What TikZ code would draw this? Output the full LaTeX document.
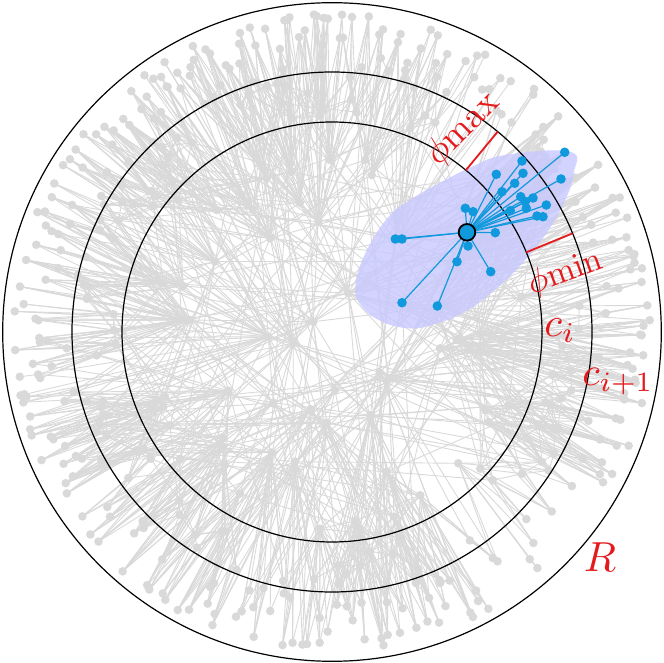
\documentclass[tikz,border=0pt]{standalone}
\definecolor{edgegray}{RGB}{217,217,217}
\definecolor{nodeblue}{RGB}{17,153,221}
\definecolor{labelred}{RGB}{228,26,28}
\definecolor{blobfill}{RGB}{200,200,255}
\newcount\nn
\newcount\nfix
\newcommand\trylink[2]{%
  \pgfmathsetmacro\thr{114.6*exp(min((\csname ga#1\endcsname)+(\csname ga#2\endcsname),0.269))}%
  \pgfmathsetmacro\dd{abs((\csname gt#1\endcsname)-(\csname gt#2\endcsname))}%
  \pgfmathparse{and(min(\dd,360-\dd)<\thr,rnd<10/\thr)}%
  \ifdim\pgfmathresult pt>0.5pt \draw[grayedge] (g#1) -- (g#2);\fi
}
\begin{document}
\begin{tikzpicture}[x=1pt,y=1pt,
  grayedge/.style={draw=edgegray,line width=0.9pt},
  graydot/.style={fill=edgegray},
  blueedge/.style={draw=nodeblue,line width=1.2pt},
  bluedot/.style={fill=nodeblue},
  ring/.style={draw=black,line width=1.2pt},
  redline/.style={draw=labelred,line width=1.8pt},
  redlabel/.style={text=labelred,inner sep=0pt}]
\useasboundingbox (-332,-331) rectangle (332,332);
\pgfmathsetseed{2024}
\global\nn=0
% hubs (pixel coordinates of the reference)
\foreach \px/\py in {216.7/210,252.7/209.3,270/238.3,318.3/221.7,215/261.7,183.3/286,190/320,181.7/320,268.3/336.7,293.3/343.3,313.3/321.7,348.3/293.3,228.3/390.7,273.3/402.7,310.7/409.3,326.7/422.7,335/390,380/372.7,388.3/379.3,370.7/416,440/348.3,223.3/438.3,222.7/446.7,271.7/452.7,295/461.7,225/465,458.3/463.3,300/202.7,386.7/471.7,178.3/200,153.3/206,266.7/178.3,291.7/171.7,165/397,163.3/407,170/425.3,180/458.7,240/493.7,320/528.7,370.3/415.3,420.3/495.3,485.3/410.3,488.7/422,480.3/468.7,365.3/160,330/160,371.7/175,291.7/118.3,323.3/108.3,470/350,456.7/340,508.3/405,521.7/296.7,480/333.3,355/521,394/516.7,360/530,113.3/238.3,100/230,163.3/283.3,106/415.3,106.7/436,138.3/452,225/531.3,195/534.7,128.3/478,522/473.7,370/551.7}{%
  \global\advance\nn by 1
  \pgfmathsetmacro\X{\px-332}%
  \pgfmathsetmacro\Y{332-\py}%
  \pgfmathsetmacro\T{mod(atan2(\Y,\X)+360,360)}%
  \pgfmathsetmacro\A{3-6*veclen(\X,\Y)/330}%
  \edef\nm{\the\nn}%
  \expandafter\xdef\csname gt\nm\endcsname{\T}%
  \expandafter\xdef\csname ga\nm\endcsname{\A}%
  \coordinate (g\nm) at (\X,\Y);
}
% blue neighbours (centred coordinates)
\foreach \X/\Y [count=\b] in {232.7/179.7,190/171,191/158.7,164.3/157.7,229/153,182.7/148.7,170/140.3,188.7/135.3,201/134,193.3/130.3,214.3/127,178.3/121.3,194.3/123.7,205/116,211/115.3,133.3/123.7,141/120.3,163.3/99.3,63.3/93,70/93,136/86,125/70.3,158.7/60.3,70/29.3,105.3/26}{%
  \global\advance\nn by 1
  \pgfmathsetmacro\T{mod(atan2(\Y,\X)+360,360)}%
  \pgfmathsetmacro\A{3-6*veclen(\X,\Y)/330}%
  \edef\nm{\the\nn}%
  \expandafter\xdef\csname gt\nm\endcsname{\T}%
  \expandafter\xdef\csname ga\nm\endcsname{\A}%
  \coordinate (g\nm) at (\X,\Y);
  \coordinate (b\b) at (\X,\Y);
}
\global\nfix=\nn
% rim nodes, in small clumps
\foreach \n [count=\s from 0] in {27,21,33,39,39,30,36,21,27,33,12,36}{%
  \foreach \k in {1,...,\n}{%
    \global\advance\nn by 1
    \pgfmathsetmacro\T{30*\s+30*(3*floor((\k-1)/3)+1.5+2.2*(rnd-0.5))/\n}%
    \pgfmathsetmacro\R{318-102*pow(rnd,1.8)}%
    \pgfmathsetmacro\R{and(\T>18,\T<54)?max(\R,276):\R}%
    \pgfmathsetmacro\A{3-6*\R/330}%
    \edef\nm{\the\nn}%
    \expandafter\xdef\csname gt\nm\endcsname{\T}%
    \expandafter\xdef\csname ga\nm\endcsname{\A}%
    \coordinate (g\nm) at (\T:\R);
  }%
}
\edef\NN{\the\nn}
\edef\NF{\the\nfix}
% gray edges
\foreach \i in {1,...,\NF}{%
  \pgfmathtruncatemacro\js{\i+1}%
  \foreach \j in {\js,...,\NN}{\trylink{\i}{\j}}%
}
\pgfmathtruncatemacro\RS{\NF+1}
\pgfmathtruncatemacro\RE{\NN-1}
\foreach \i in {\RS,...,\RE}{%
  \pgfmathtruncatemacro\js{\i+1}%
  \pgfmathtruncatemacro\je{min(\i+10,\NN)}%
  \foreach \j in {\js,...,\je}{\trylink{\i}{\j}}%
}
% gray dots
\foreach \i in {1,...,\NN}{\fill[graydot] (g\i) circle (4.3);}
% highlighted region
\fill[blobfill,opacity=0.8] plot[smooth cycle,tension=0.7] coordinates {(238,180.3) (173.3,177) (140,165.3) (110,150.3) (83.3,135.3) (56.7,115.3) (33.3,78.7) (23.3,45.3) (30,25.3) (50,10.3) (76.7,3.7) (100,7) (133.3,20.3) (166.7,45.3) (193.3,72) (216.7,102) (233.3,132) (241.7,158.7)};
% rings
\coordinate (O) at (0,0);
\draw[ring] (O) circle (210);
\draw[ring] (O) circle (260);
\draw[ring] (O) circle (329.3);
% blue star
\coordinate (hub) at (135,99.7);
\foreach \b in {1,...,25}{\draw[blueedge] (hub) -- (b\b);}
\foreach \b in {1,...,25}{\fill[bluedot] (b\b) circle (4.8);}
\draw[fill=nodeblue,draw=black,line width=1.8pt] (hub) circle (8.3);
% angular bounds
\coordinate (mx1) at (50.4:210); \coordinate (mx2) at (50.4:260);
\coordinate (mn1) at (22.3:210); \coordinate (mn2) at (22.3:260);
\draw[redline] (mx1) -- (mx2);
\draw[redline] (mn1) -- (mn2);
\node[redlabel,scale=3.6,rotate=45] (phimax) at (131,203) {$\phi\mathrm{max}$};
\node[redlabel,scale=3.4,rotate=20] (phimin) at (233,59) {$\phi\mathrm{min}$};
\node[redlabel,scale=4.1] (ci) at (228,1) {$c_i$};
\node[redlabel,scale=4.0] (ci1) at (286,-50) {$c_{i+1}$};
\node[redlabel,scale=4.2] (R) at (268,-225) {$R$};
\end{tikzpicture}
\end{document}
